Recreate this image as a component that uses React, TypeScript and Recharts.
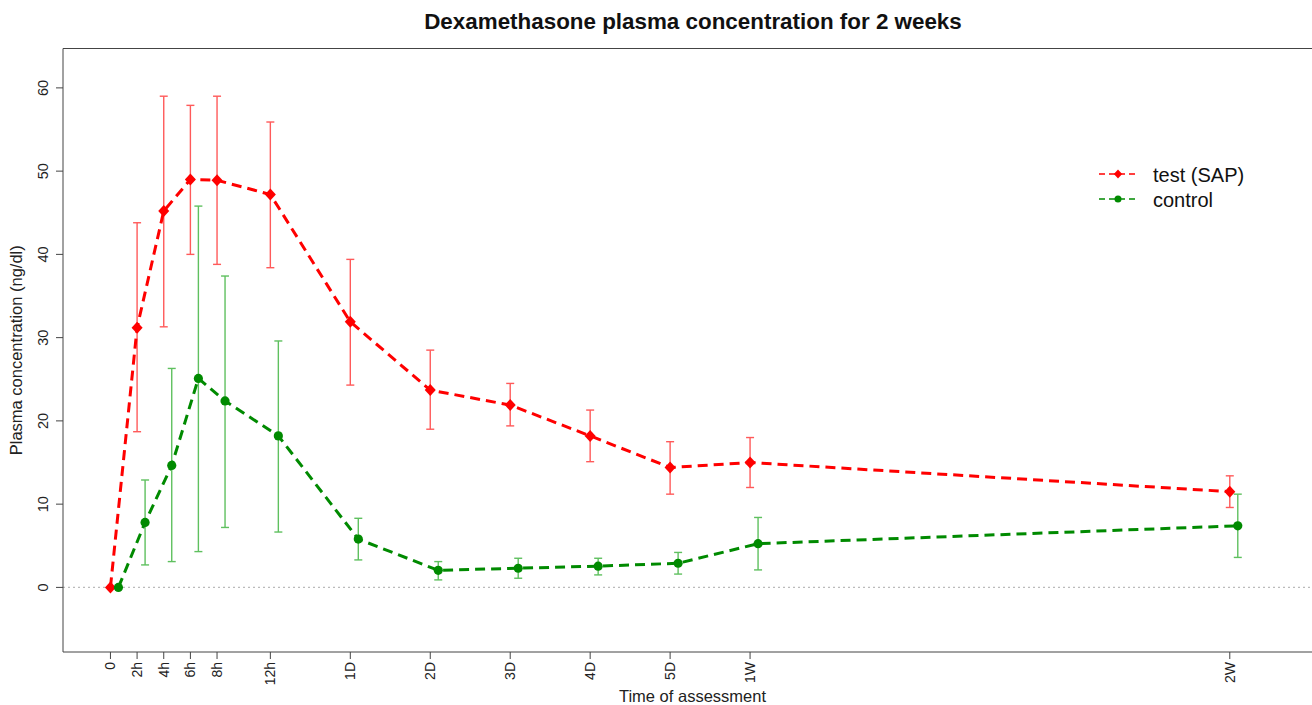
import React from "react";
import {
  ComposedChart,
  Line,
  XAxis,
  YAxis,
  ErrorBar,
  ReferenceLine,
  Label,
} from "recharts";

// time points and their slot on the x axis
const timeLabels = ["0", "2h", "4h", "6h", "8h", "12h", "1D", "2D", "3D", "4D", "5D", "1W", "2W"];
const timePos = [0, 1, 2, 3, 4, 6, 9, 12, 15, 18, 21, 24, 42];

const testMean = [0, 31.2, 45.2, 49.0, 48.9, 47.2, 31.9, 23.7, 21.9, 18.2, 14.4, 15.0, 11.5];
const testLow = [0, 18.7, 31.3, 40.0, 38.8, 38.4, 24.3, 19.0, 19.4, 15.1, 11.2, 12.0, 9.6];
const testHigh = [0, 43.8, 59.0, 57.9, 59.0, 55.9, 39.4, 28.5, 24.5, 21.3, 17.5, 18.0, 13.4];

const controlMean = [0, 7.8, 14.65, 25.1, 22.4, 18.2, 5.8, 2.05, 2.3, 2.55, 2.9, 5.25, 7.4];
const controlLow = [0, 2.7, 3.1, 4.3, 7.2, 6.65, 3.3, 0.9, 1.1, 1.5, 1.6, 2.1, 3.6];
const controlHigh = [0, 12.9, 26.3, 45.8, 37.4, 29.6, 8.3, 3.1, 3.5, 3.5, 4.2, 8.4, 11.2];

const yTicks = [0, 10, 20, 30, 40, 50, 60];

// control points are nudged right a little so the bars don't overlap
const controlShift = 0.3;

const FONT = '"Liberation Sans", Arial, sans-serif';
const AXIS = "#444";

const buildSeries = (mean: number[], lo: number[], hi: number[], shift: number) =>
  mean.map((v, i) => ({
    x: timePos[i] + shift,
    y: v,
    err: [v - lo[i], hi[i] - v],
  }));

const testData = buildSeries(testMean, testLow, testHigh, 0);
const controlData = buildSeries(controlMean, controlLow, controlHigh, controlShift);

const Diamond = ({ cx, cy, s, fill }: any) => (
  <path d={`M${cx},${cy - s} L${cx + s * 0.92},${cy} L${cx},${cy + s} L${cx - s * 0.92},${cy} Z`} fill={fill} />
);

const XTick = ({ x, y, payload }: any) => {
  const idx = timePos.indexOf(payload.value);
  const ty = y + 1;
  const tx = x + 5;
  return (
    <text
      x={tx}
      y={ty}
      transform={`rotate(-90 ${tx} ${ty})`}
      textAnchor="end"
      fontSize={14}
      fontFamily={FONT}
      fill="#222"
    >
      {idx >= 0 ? timeLabels[idx] : ""}
    </text>
  );
};

const YTick = ({ x, y, payload }: any) => {
  const tx = x - 6;
  return (
    <text
      x={tx}
      y={y}
      transform={`rotate(-90 ${tx} ${y})`}
      textAnchor="middle"
      fontSize={14.5}
      fontFamily={FONT}
      fill="#222"
    >
      {payload.value}
    </text>
  );
};

export default function App() {
  return (
    <div
      style={{
        position: "absolute",
        left: 0,
        top: 0,
        width: 1312,
        height: 705,
        overflow: "hidden",
        background: "#fff",
      }}
    >
      <ComposedChart
        width={1330}
        height={705}
        margin={{ top: 48.5, right: 8, bottom: 0, left: 0 }}
      >
        <XAxis
          type="number"
          dataKey="x"
          domain={[-1.78, 45.46]}
          allowDataOverflow
          ticks={timePos}
          interval={0}
          height={53}
          tickSize={7}
          tickMargin={2}
          stroke={AXIS}
          tickLine={{ stroke: AXIS }}
          tick={<XTick />}
        >
          <Label
            content={({ viewBox }: any) => (
              <text
                x={viewBox.x + viewBox.width / 2}
                y={702}
                textAnchor="middle"
                fontSize={16.5}
                fontFamily={FONT}
                fill="#222"
              >
                Time of assessment
              </text>
            )}
          />
        </XAxis>
        <YAxis
          type="number"
          domain={[-7.76, 64.73]}
          allowDataOverflow
          ticks={yTicks}
          width={63}
          tickSize={7}
          tickMargin={2}
          stroke={AXIS}
          tickLine={{ stroke: AXIS }}
          tick={<YTick />}
        >
          <Label
            content={({ viewBox }: any) => {
              const cy = viewBox.y + viewBox.height / 2;
              return (
                <text
                  x={22}
                  y={cy}
                  transform={`rotate(-90 22 ${cy})`}
                  textAnchor="middle"
                  fontSize={16.5}
                  fontFamily={FONT}
                  fill="#222"
                >
                  Plasma concentration (ng/dl)
                </text>
              );
            }}
          />
        </YAxis>
        <ReferenceLine y={64.73} stroke={AXIS} strokeWidth={1} ifOverflow="visible" />
        <ReferenceLine y={0} stroke="#bbbbbb" strokeWidth={1.2} strokeDasharray="2 3" />
        <Line
          data={testData}
          dataKey="y"
          type="linear"
          stroke="#ff0000"
          strokeWidth={3}
          strokeDasharray="10 6"
          isAnimationActive={false}
          activeDot={false}
          dot={(p: any) => <Diamond key={`t-${p.index}`} cx={p.cx} cy={p.cy} s={6} fill="#ff0000" />}
        >
          <ErrorBar dataKey="err" direction="y" width={4} stroke="#ff5a5a" strokeWidth={1.4} />
        </Line>
        <Line
          data={controlData}
          dataKey="y"
          type="linear"
          stroke="#008a00"
          strokeWidth={3}
          strokeDasharray="10 6"
          isAnimationActive={false}
          activeDot={false}
          dot={(p: any) => <circle key={`c-${p.index}`} cx={p.cx} cy={p.cy} r={4.6} fill="#008a00" />}
        >
          <ErrorBar dataKey="err" direction="y" width={4} stroke="#5fc05f" strokeWidth={1.4} />
        </Line>
      </ComposedChart>

      {/* title and legend drawn on top, R style */}
      <svg
        width={1312}
        height={705}
        style={{ position: "absolute", left: 0, top: 0, pointerEvents: "none" }}
      >
        <text x={693} y={29} textAnchor="middle" fontSize={22.4} fontWeight="bold" fontFamily={FONT} fill="#111">
          Dexamethasone plasma concentration for 2 weeks
        </text>
        <g transform="translate(1090,160)">
          <line x1={9} y1={14} x2={47} y2={14} stroke="#ff0000" strokeWidth={1.5} strokeDasharray="6 4" />
          <Diamond cx={28} cy={14} s={4.5} fill="#ff0000" />
          <text x={63} y={15} dominantBaseline="central" fontSize={20} fontFamily={FONT} fill="#111">
            test (SAP)
          </text>
          <line x1={9} y1={39} x2={47} y2={39} stroke="#008a00" strokeWidth={1.5} strokeDasharray="6 4" />
          <circle cx={28} cy={39} r={3.5} fill="#008a00" />
          <text x={63} y={40} dominantBaseline="central" fontSize={20} fontFamily={FONT} fill="#111">
            control
          </text>
        </g>
      </svg>
    </div>
  );
}
